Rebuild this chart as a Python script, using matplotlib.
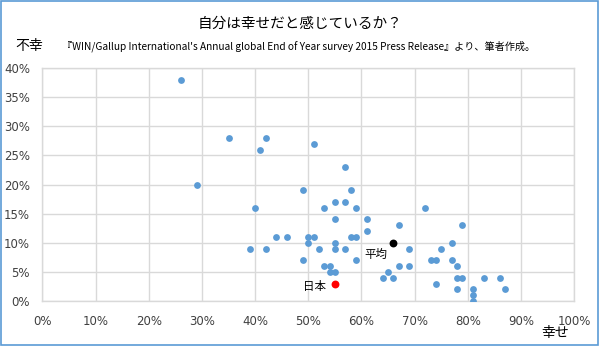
import matplotlib
matplotlib.use("Agg")
import matplotlib.pyplot as plt
from matplotlib.ticker import PercentFormatter
from matplotlib.patches import Rectangle

plt.rcParams['font.family'] = ['Noto Sans CJK JP', 'DejaVu Sans']

# 幸せ (x, %) / 不幸 (y, %) per country
happy = [26, 35, 42, 41, 29, 51, 57, 49, 58, 40, 53, 55, 57, 59, 72, 55, 61, 61, 67, 79,
         44, 46, 50, 51, 58, 59, 50, 55, 77, 39, 42, 52, 55, 57, 69, 75, 49, 59, 73, 74,
         77, 53, 54, 67, 69, 78, 54, 55, 65, 64, 66, 78, 79, 83, 86, 74, 78, 81, 87, 81, 81]
unhappy = [38, 28, 28, 26, 20, 27, 23, 19, 19, 16, 16, 17, 17, 16, 16, 14, 14, 12, 13, 13,
           11, 11, 11, 11, 11, 11, 10, 10, 10, 9, 9, 9, 9, 9, 9, 9, 7, 7, 7, 7,
           7, 6, 6, 6, 6, 6, 5, 5, 5, 4, 4, 4, 4, 4, 4, 3, 2, 2, 2, 1, 0]

japan = (55, 3)
average = (66, 10)

xticks = list(range(0, 101, 10))
yticks = list(range(0, 41, 5))

fig = plt.figure(figsize=(6.0, 3.46), dpi=100)
ax = fig.add_axes([0.0708, 0.130, 0.8859, 0.6735])

ax.scatter(happy, unhappy, s=24, color='#5B9BD5', zorder=3, linewidths=0)
ax.scatter([japan[0]], [japan[1]], s=32, color='#FF0000', zorder=4, linewidths=0)
ax.scatter([average[0]], [average[1]], s=32, color='black', zorder=4, linewidths=0)

ax.annotate('平均', average, xytext=(-17, -12), textcoords='offset pixels',
            ha='center', va='center', fontsize=8.3)
ax.annotate('日本', japan, xytext=(-9, -3), textcoords='offset pixels',
            ha='right', va='center', fontsize=8.3)

ax.set_xlim(0, 100)
ax.set_ylim(0, 40)
ax.set_xticks(xticks)
ax.set_yticks(yticks)
ax.xaxis.set_major_formatter(PercentFormatter(decimals=0))
ax.yaxis.set_major_formatter(PercentFormatter(decimals=0))
ax.tick_params(length=0, labelsize=8.5, colors='#404040')
ax.tick_params(axis='x', pad=10)
ax.tick_params(axis='y', pad=9)
for lab in ax.get_xticklabels() + ax.get_yticklabels():
    lab.set_family('DejaVu Sans')
ax.grid(True, color='#d9d9d9', linewidth=1)
ax.set_axisbelow(True)
for sp in ax.spines.values():
    sp.set_color('#d9d9d9')
    sp.set_linewidth(1)

fig.text(0.5, 0.93, '自分は幸せだと感じているか？', ha='center', va='center', fontsize=10.5)
fig.text(0.025, 0.868, '不幸', ha='left', va='center', fontsize=10)
fig.text(0.104, 0.867,
         '『WIN/Gallup International\'s Annual global End of Year survey 2015 Press Release』より、筆者作成。',
         ha='left', va='center', fontsize=7.3)
fig.text(0.902, 0.038, '幸せ', ha='left', va='center', fontsize=10)

# chart frame
fig.patches.append(Rectangle((0.002, 0.003), 0.995, 0.994, transform=fig.transFigure,
                             fill=False, edgecolor='#5B9BD5', linewidth=1.2))

fig.savefig('out.png', dpi=100)
